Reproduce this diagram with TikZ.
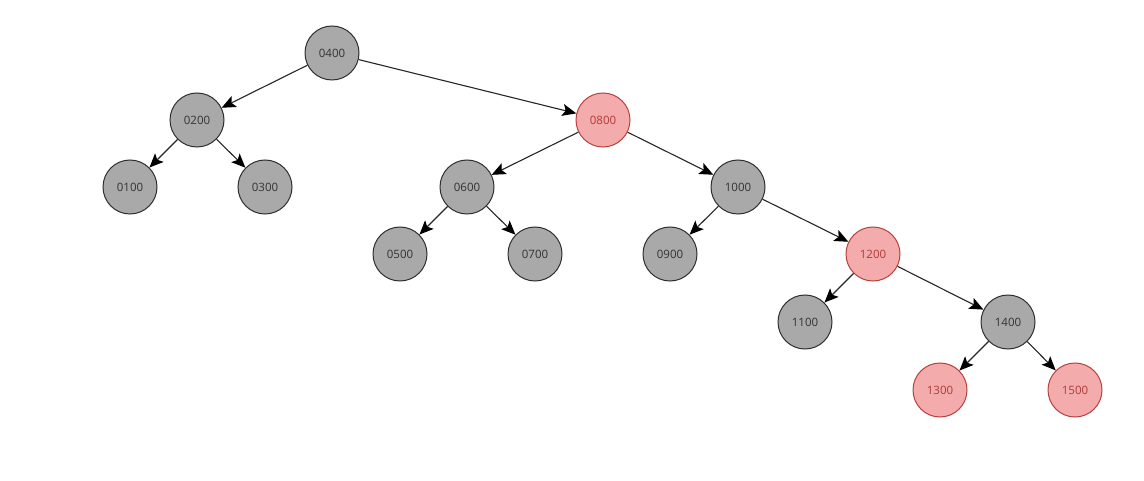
\documentclass[tikz,border=0pt]{standalone}
\usepackage{fontspec}
\setmainfont{Open Sans}
\usetikzlibrary{arrows.meta}
\definecolor{gfill}{HTML}{A9A9A9}
\definecolor{gdraw}{HTML}{2E2E2E}
\definecolor{rfill}{HTML}{F4ABAB}
\definecolor{rdraw}{HTML}{B8403C}
\definecolor{rtext}{HTML}{B03A3A}
\tikzset{
  blk/.style={circle, minimum size=54pt, inner sep=0pt, fill=gfill, draw=gdraw, line width=1pt, text=black!80, font=\fontsize{11.5}{12}\selectfont},
  red/.style={blk, fill=rfill, draw=rdraw, text=rtext},
  edge/.style={draw=black!85, line width=1.1pt, -{Stealth[length=14pt,width=12pt,inset=3pt,color=black]}}
}
\begin{document}
\begin{tikzpicture}[x=1pt,y=-1pt]
\useasboundingbox (0,0) rectangle (1144,481);
\node[blk] (n400) at (332,53) {0400};
\node[blk] (n200) at (197,120) {0200};
\node[red] (n800) at (603,120) {0800};
\node[blk] (n100) at (130,187) {0100};
\node[blk] (n300) at (265,187) {0300};
\node[blk] (n600) at (467,187) {0600};
\node[blk] (n1000) at (738,187) {1000};
\node[blk] (n500) at (400,254) {0500};
\node[blk] (n700) at (535,254) {0700};
\node[blk] (n900) at (670,254) {0900};
\node[red] (n1200) at (873,254) {1200};
\node[blk] (n1100) at (805,322) {1100};
\node[blk] (n1400) at (1008,322) {1400};
\node[red] (n1300) at (940,390) {1300};
\node[red] (n1500) at (1075,390) {1500};
\path[edge] (n400) -- (n200);
\path[edge] (n400) -- (n800);
\path[edge] (n200) -- (n100);
\path[edge] (n200) -- (n300);
\path[edge] (n800) -- (n600);
\path[edge] (n800) -- (n1000);
\path[edge] (n600) -- (n500);
\path[edge] (n600) -- (n700);
\path[edge] (n1000) -- (n900);
\path[edge] (n1000) -- (n1200);
\path[edge] (n1200) -- (n1100);
\path[edge] (n1200) -- (n1400);
\path[edge] (n1400) -- (n1300);
\path[edge] (n1400) -- (n1500);
\end{tikzpicture}
\end{document}
